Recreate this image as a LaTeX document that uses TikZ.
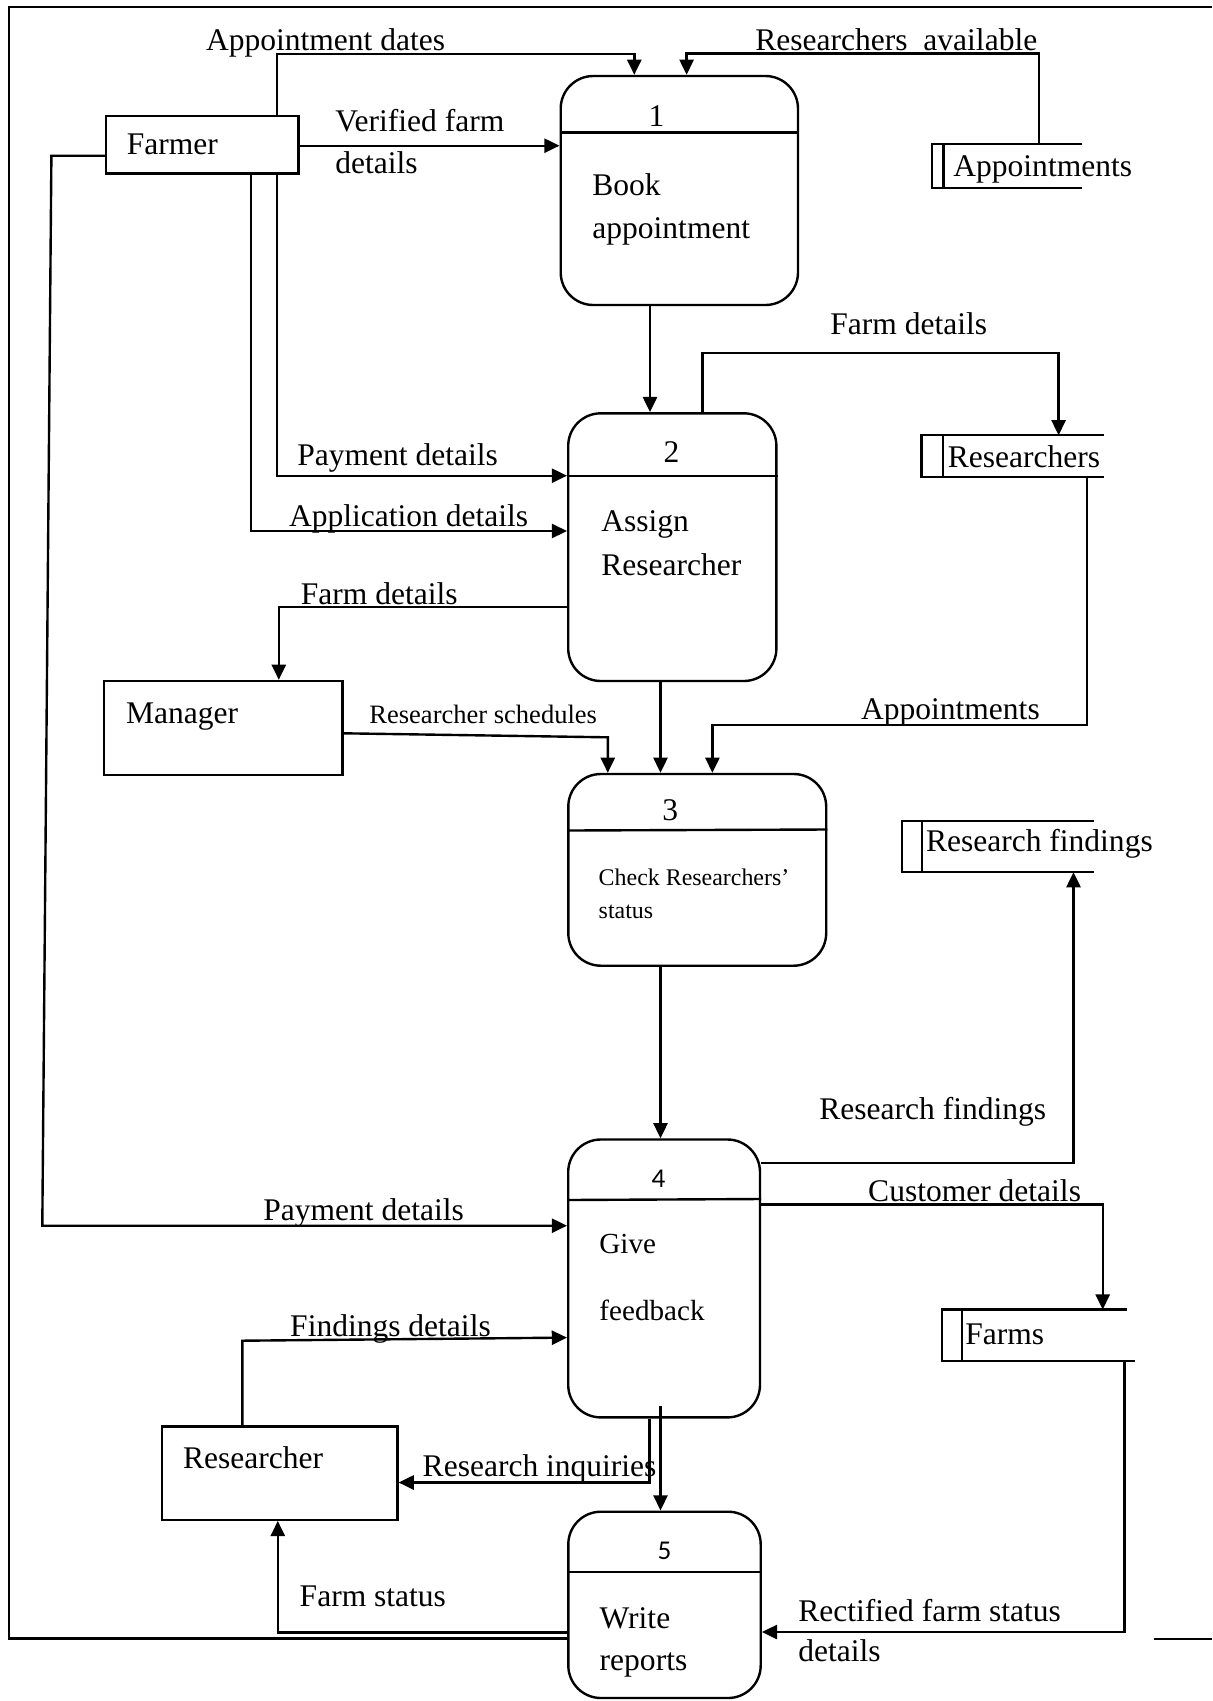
\documentclass[tikz,border=0pt]{standalone}
\usepackage{fontspec}
\setmainfont{Liberation Serif}
\newfontfamily\numfont{Carlito}
\usetikzlibrary{arrows.meta,fit}
\begin{document}
\begin{tikzpicture}[x=0.46pt,y=-0.46pt,
  ln/.style={line width=1.1pt},
  flow/.style={line width=1.1pt,-{Triangle[length=7pt,width=6.5pt]}},
  ent/.style={draw,line width=1.1pt,fill=white,inner sep=0pt},
  proc/.style={draw,line width=1.1pt,fill=white,inner sep=0pt,rounded corners=15pt},
  store/.style={inner sep=0pt},
  lbl/.style={anchor=base west,inner sep=0pt,font=\fontsize{14.5}{17}\selectfont},
  num/.style={anchor=base,inner sep=0pt,font=\fontsize{14.5}{17}\selectfont},
  snum/.style={anchor=base,inner sep=0pt,font=\numfont\fontsize{12.5}{15}\selectfont},
  midlbl/.style={anchor=base west,inner sep=0pt,font=\fontsize{13.4}{16}\selectfont},
  smalllbl/.style={anchor=base west,inner sep=0pt,font=\fontsize{12.2}{14}\selectfont},
  tinylbl/.style={anchor=base west,inner sep=0pt,font=\fontsize{11}{13}\selectfont},
]
\useasboundingbox (0,0) rectangle (1212,1701);

% outer frame
\draw[ln] (1212,6.7) -- (8.7,6.7) -- (8.7,1638.5) -- (568,1638.5);
\draw[ln] (1154,1639) -- (1212,1639);

% external entities
\node[ent,fit={(106,115.7)(298.5,173.3)}] (farmer) {};
\node[lbl] (farmerT) at (126.5,154) {Farmer};
\node[ent,fit={(104,681)(342.4,775)}] (manager) {};
\node[lbl] (managerT) at (125.7,723) {Manager};
\node[ent,fit={(162.1,1426.6)(397.4,1519.7)}] (researcher) {};
\node[lbl] (researcherT) at (182.7,1468) {Researcher};

% processes
\node[proc,fit={(560.7,76)(798,305)}] (p1) {};
\draw[ln] (p1.west |- 0,132.5) -- (p1.east |- 0,132.5);
\node[num] (p1n) at (656.6,126) {1};
\node[lbl] (p1a) at (592,195) {Book};
\node[lbl] (p1b) at (592,238) {appointment};

\node[proc,fit={(568.2,413.3)(776.4,681)}] (p2) {};
\draw[ln] (p2.west |- 0,476) -- (p2.east |- 0,476);
\node[num] (p2n) at (671.4,462.7) {2};
\node[lbl] (p2a) at (601,531.7) {Assign};
\node[lbl] (p2b) at (601,575) {Researcher};

\node[proc,fit={(568.3,774)(826.2,965.7)}] (p3) {};
\draw[ln] (p3.west |- 0,830.5) -- (p3.east |- 0,829.5);
\node[num] (p3n) at (670.3,820.7) {3};
\node[tinylbl] (p3a) at (598.3,885) {Check Researchers’};
\node[tinylbl] (p3b) at (598.3,918.3) {status};

\node[proc,fit={(568.2,1139.5)(760,1417.4)}] (p4) {};
\draw[ln] (p4.west |- 0,1200) -- (p4.east |- 0,1199);
\node[snum] (p4n) at (658.5,1187.4) {4};
\node[midlbl] (p4a) at (599,1253) {Give};
\node[midlbl] (p4b) at (599,1320.4) {feedback};

\node[proc,fit={(568.3,1511.7)(760.7,1698)}] (p5) {};
\draw[ln] (p5.west |- 0,1572) -- (p5.east |- 0,1572);
\node[snum] (p5n) at (664.4,1559.5) {5};
\node[lbl] (p5a) at (599.3,1628) {Write};
\node[lbl] (p5b) at (599.3,1670.5) {reports};

% data stores
\node[store,fit={(932.5,144.3)(1082,187.3)}] (s1) {};
\draw[ln] (s1.north east) -- (s1.north west) -- (s1.south west) -- (s1.south east);
\draw[ln] (943.5,0 |- s1.north) -- (943.5,0 |- s1.south);
\node[lbl] (s1T) at (953,176.7) {Appointments};

\node[store,fit={(922,435.7)(1103.5,476.7)}] (s2) {};
\draw[ln] (s2.north east) -- (s2.north west) -- (s2.south west) -- (s2.south east);
\draw[ln] (942.7,0 |- s2.north) -- (942.7,0 |- s2.south);
\node[lbl] (s2T) at (947.4,467.3) {Researchers};

\node[store,fit={(902.3,821.7)(1094,871.7)}] (s3) {};
\draw[ln] (s3.north east) -- (s3.north west) -- (s3.south west) -- (s3.south east);
\draw[ln] (922,0 |- s3.north) -- (922,0 |- s3.south);
\node[lbl] (s3T) at (925.6,851.7) {Research findings};

\node[store,fit={(942.7,1310)(1134.7,1360.6)}] (s4) {};
\draw[ln] (1127,0 |- s4.north) -- (s4.north west) -- (s4.south west) -- (s4.south east);
\draw[ln] (962.2,0 |- s4.north) -- (962.2,0 |- s4.south);
\node[lbl] (s4T) at (965,1344.5) {Farms};

% flows
\draw[flow] (farmer.north -| 276.8,0) |- (634.3,54) -- (p1.north -| 634.3,0);
\node[lbl] (l1) at (205.6,50.7) {Appointment dates};

\draw[flow] (s1.north -| 1039,0) |- (686.6,53.3) -- (p1.north -| 686.6,0);
\node[lbl] (l2) at (755,50.7) {Researchers\ \ available};

\draw[flow] (farmer.east |- 0,145.7) -- (p1.west |- 0,145.7);
\node[lbl] (l3a) at (335,131.7) {Verified farm};
\node[lbl] (l3b) at (335,173) {details};

\draw[flow] (p1.south -| 650,0) -- (p2.north -| 650,0);

\draw[flow] (p2.north -| 702.3,0) |- (1058.6,352.7) -- (s2.north -| 1058.6,0);
\node[lbl] (l5) at (830,334) {Farm details};

\draw[flow] (farmer.south -| 276.8,0) |- (p2.west |- 0,475.7);
\node[lbl] (l6) at (297,465) {Payment details};

\draw[flow] (farmer.south -| 251,0) |- (p2.west |- 0,531);
\node[lbl] (l7) at (288.6,526) {Application details};

\draw[flow] (p2.west |- 0,606.7) -| (manager.north -| 278.8,0);
\node[lbl] (l8) at (300.5,604) {Farm details};

\draw[flow] (manager.east |- 0,733.3) -- (607.8,737.3) -- (p3.north -| 607.8,0);
\node[smalllbl] (l9) at (369,723) {Researcher schedules};

\draw[flow] (p2.south -| 660.5,0) -- (p3.north -| 660.5,0);

\draw[flow] (s2.south -| 1087,0) |- (712.4,725) -- (p3.north -| 712.4,0);
\node[lbl] (l11) at (860.7,719.3) {Appointments};

\draw[flow] (p3.south -| 660.5,0) -- (p4.north -| 660.5,0);

\draw[flow] (p4.east |- 0,1163.2) -| (s3.south -| 1073.5,0);
\node[lbl] (l13) at (819,1119) {Research findings};

\draw[flow] (p4.east |- 0,1204.6) -| (s4.north -| 1102.7,0);
\node[lbl] (l14) at (867.8,1201.6) {Customer details};

\draw[flow] (farmer.west |- 0,155.7) -- (51.4,155.7) -- (42.3,1225.7) -- (p4.west |- 0,1225.7);
\node[lbl] (l15) at (263,1220.7) {Payment details};

\draw[flow] (researcher.north -| 242.4,0) -- (242.4,1340.7) -- (p4.west |- 0,1337.6);
\node[lbl] (l16) at (289.8,1336.9) {Findings details};

\draw[flow] (p4.south -| 649.6,0) |- (researcher.east |- 0,1482.5);
\node[lbl] (l17) at (422.3,1476.4) {Research inquiries};

\coordinate (c18) at (660.5,1405.9);
\draw[flow] (c18) -- (p5.north -| 660.5,0);

\draw[flow] (s4.south -| 1124.5,0) |- (p5.east |- 0,1632);
\node[lbl] (l19a) at (797.9,1621.3) {Rectified farm status};
\node[lbl] (l19b) at (797.9,1661.5) {details};

\draw[flow] (p5.west |- 0,1632.3) -| (researcher.south -| 277.8,0);
\node[lbl] (l20) at (299.3,1606.7) {Farm status};

\end{tikzpicture}
\end{document}
